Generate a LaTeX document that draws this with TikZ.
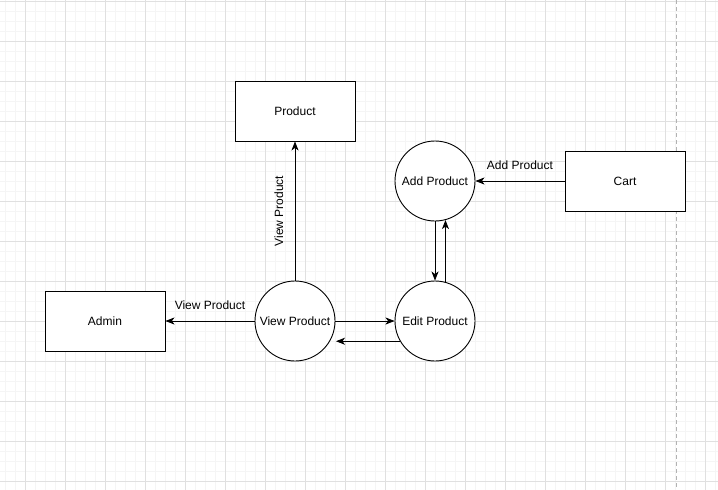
\documentclass[tikz,border=0pt]{standalone}
\usepackage{fontspec}
\setmainfont{Liberation Sans}
\usetikzlibrary{arrows.meta}
\begin{document}
\begin{tikzpicture}[x=1pt,y=-1pt,
  every node/.style={font=\fontsize{12}{14}\selectfont},
  minorgrid/.style={draw=black!4, line width=0.8pt},
  majorgrid/.style={draw=black!12, line width=0.8pt},
  entity/.style={draw, line width=0.9pt, fill=white, minimum width=120pt, minimum height=60pt},
  process/.style={draw, circle, line width=0.9pt, fill=white, minimum size=80pt, inner sep=0pt},
  flow/.style={line width=0.9pt, -{Stealth[length=9pt,width=7pt,inset=2.5pt]}}]
\useasboundingbox (0,0) rectangle (718,490);
\fill[white] (0,0) rectangle (718,490);
% grid
\foreach \x in {5,15,...,715}{
\draw[minorgrid] (\x,0) -- (\x,490);
}
\foreach \y in {1,11,...,481}{
\draw[minorgrid] (0,\y) -- (718,\y);
}
\foreach \x in {25,65,...,705}{
\draw[majorgrid] (\x,0) -- (\x,490);
}
\foreach \y in {1,41,...,481}{
\draw[majorgrid] (0,\y) -- (718,\y);
}
\draw[black!30, line width=0.8pt, dash pattern=on 4pt off 3pt] (676,0) -- (676,490);
% nodes
\node[entity] (product) at (295,111) {Product};
\node[entity] (cart) at (625,181) {Cart};
\node[entity] (admin) at (105,321) {Admin};
\node[process] (add) at (435,181) {Add Product};
\node[process] (view) at (295,321) {View Product};
\node[process] (edit) at (435,321) {Edit Product};
% flows
\draw[flow] (view) -- (product) node[midway, rotate=90, above=8pt] {View Product};
\draw[flow] (view) -- (admin) node[midway, above=8pt] {View Product};
\draw[flow] (view) -- (edit);
\draw[flow] (edit.210) -- ++(-64,0);
\draw[flow] (add) -- (edit);
\draw[flow] (edit.75) -- (add.285);
\draw[flow] (cart) -- (add) node[midway, above=8pt] {Add Product};
\end{tikzpicture}
\end{document}
